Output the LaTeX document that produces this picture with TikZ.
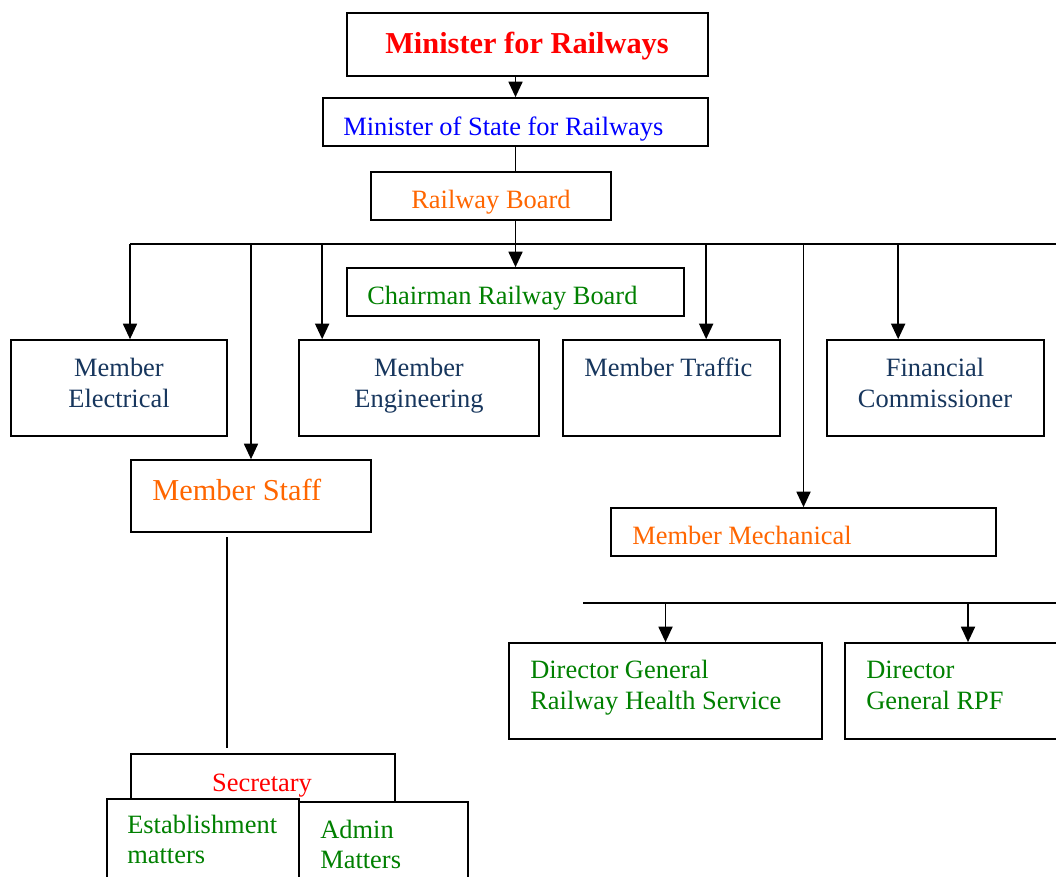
\documentclass[tikz,border=0pt]{standalone}
\usepackage{fontspec}
\setmainfont{Liberation Serif}
\usetikzlibrary{arrows.meta,fit,calc}
\definecolor{rbOrange}{RGB}{255,102,0}
\definecolor{rbNavy}{RGB}{23,54,93}
\definecolor{rbGreen}{RGB}{0,128,0}
\begin{document}
\begin{tikzpicture}[x=0.025cm,y=-0.025cm,>={Triangle[width=10pt,length=11pt]},
        box/.style={draw,line width=1.2pt,inner sep=0pt,fill=white},
        txt/.style={inner sep=0pt,font=\fontsize{18.8}{22}\selectfont},
        big/.style={inner sep=0pt,font=\fontsize{21.6}{26}\selectfont},
        link/.style={line width=1.1pt}]
        \useasboundingbox (0,0) rectangle (1056,876);
        % top of the chain
        \node[box,fit={(347,13) (708,76)}] (mfr) {};
        \node[big,red,anchor=base,font=\fontsize{21.6}{26}\selectfont\bfseries] (mfr-t) at (527,53) {Minister for Railways};
        \node[box,fit={(323,98) (708,146)}] (mos) {};
        \node[txt,blue,anchor=base west] (mos-t) at (343,135) {Minister of State for Railways};
        \node[box,fit={(371,172) (611,220)}] (rb) {};
        \node[txt,rbOrange,anchor=base west] (rb-t) at (411,208) {Railway Board};
        \node[box,fit={(347,268) (684,316)}] (chair) {};
        \node[txt,rbGreen,anchor=base west] (chair-t) at (367,304) {Chairman Railway Board};
        % members
        \node[box,fit={(11,340) (227,436)}] (mel) {};
        \node[txt,rbNavy,anchor=base] (mel-a) at (119,376) {Member};
        \node[txt,rbNavy,anchor=base] (mel-b) at (119,407) {Electrical};
        \node[box,fit={(299,340) (539,436)}] (meng) {};
        \node[txt,rbNavy,anchor=base] (meng-a) at (419,376) {Member};
        \node[txt,rbNavy,anchor=base] (meng-b) at (419,407) {Engineering};
        \node[box,fit={(563,340) (780,436)}] (mtr) {};
        \node[txt,rbNavy,anchor=base west] (mtr-t) at (584,376) {Member Traffic};
        \node[box,fit={(827,340) (1044,436)}] (fc) {};
        \node[txt,rbNavy,anchor=base] (fc-a) at (935,376) {Financial};
        \node[txt,rbNavy,anchor=base] (fc-b) at (935,407) {Commissioner};
        \node[box,fit={(131,460) (371,532)}] (ms) {};
        \node[big,rbOrange,anchor=base west] (ms-t) at (152,500) {Member Staff};
        \node[box,fit={(611,508) (996,556)}] (mm) {};
        \node[txt,rbOrange,anchor=base west] (mm-t) at (632,544) {Member Mechanical};
        % under mechanical
        \node[box,fit={(509,643) (822,739)}] (rhs) {};
        \node[txt,rbGreen,anchor=base west] (rhs-a) at (530,678) {Director General};
        \node[txt,rbGreen,anchor=base west] (rhs-b) at (530,709) {Railway Health Service};
        \node[box,fit={(845,643) (1091,739)}] (rpf) {};
        \node[txt,rbGreen,anchor=base west] (rpf-a) at (866,678) {Director};
        \node[txt,rbGreen,anchor=base west] (rpf-b) at (866,709) {General RPF};
        % under staff
        \node[box,fit={(131,754) (395,815)}] (sec) {};
        \node[txt,red,anchor=base] (sec-t) at (262,791) {Secretary};
        \node[box,fit={(299,802) (468,920)}] (adm) {};
        \node[txt,rbGreen,anchor=base west] (adm-a) at (320,838) {Admin};
        \node[txt,rbGreen,anchor=base west] (adm-b) at (320,868) {Matters};
        \node[box,fit={(107,799) (299,920)}] (est) {};
        \node[txt,rbGreen,anchor=base west] (est-a) at (127,833) {Establishment};
        \node[txt,rbGreen,anchor=base west] (est-b) at (127,863) {matters};
        % connectors
        \draw[link,->] (mos.north |- mfr.south) -- (mos.north);
        \draw[link] (mos.south) -- (mos.south |- rb.north);
        \draw[link,->] (chair.north |- rb.south) -- (chair.north);
        \coordinate (busL) at (130,244);
        \coordinate (busR) at (1056,244);
        \draw[link] (busL) -- (busR);
        \draw[link,->] (busL) -- (busL |- mel.north);
        \draw[link,->] (ms.north |- busL) -- (ms.north);
        \draw[link,->] (mm.north |- busL) -- (mm.north);
        \foreach \b/\d in {meng/24,mtr/144,fc/72}
            {
                \coordinate (\b-in) at ($(\b.north west)+(\d,0)$);
                \draw[link,->] (\b-in |- busL) -- (\b-in);
            }
        \coordinate (s1) at (227,537);
        \coordinate (s2) at (227,748);
        \draw[link] (s1) -- (s2);
        \coordinate (bus2L) at (583,603);
        \coordinate (bus2R) at (1056,603);
        \draw[link] (bus2L) -- (bus2R);
        \draw[link,->] (rhs.north |- bus2L) -- (rhs.north);
        \draw[link,->] (rpf.north |- bus2L) -- (rpf.north);
    \end{tikzpicture}
\end{document}
